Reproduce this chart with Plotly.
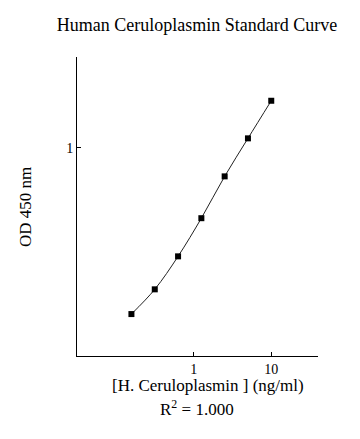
import plotly.graph_objects as go

concentration = [0.156, 0.3125, 0.625, 1.25, 2.5, 5, 10]
od450 = [0.159, 0.209, 0.301, 0.459, 0.729, 1.110, 1.682]
x_ticks = [1, 10]
y_ticks = [1]

FONT = "Liberation Serif, Times New Roman, serif"

fig = go.Figure()
fig.add_trace(go.Scatter(
    x=concentration, y=od450, mode="lines+markers",
    line=dict(color="#222222", width=1, shape="spline"),
    marker=dict(symbol="square", size=6, color="black"),
    showlegend=False,
))

fig.update_layout(
    width=360, height=439,
    margin=dict(l=77, r=42, t=57, b=83),
    paper_bgcolor="white", plot_bgcolor="white",
    font=dict(family=FONT, color="black"),
    title=dict(text="Human Ceruloplasmin Standard Curve", x=0.547, xanchor="center",
               y=1 - 25 / 439, yanchor="middle", font=dict(size=18, family=FONT, color="black")),
    xaxis=dict(type="log", range=[-1.51, 1.604], tickvals=x_ticks, ticktext=[str(v) for v in x_ticks],
               ticks="inside", ticklen=4, tickcolor="black", showline=True, linecolor="black",
               linewidth=1, showgrid=False, zeroline=False,
               tickfont=dict(size=14, family=FONT, color="black")),
    yaxis=dict(type="log", range=[-1.0, 0.436], tickvals=y_ticks, ticktext=[str(v) for v in y_ticks],
               ticks="inside", ticklen=4, tickcolor="black", showline=True, linecolor="black",
               linewidth=1, showgrid=False, zeroline=False,
               tickfont=dict(size=14, family=FONT, color="black")),
    annotations=[
        dict(text="[H. Ceruloplasmin ] (ng/ml)", xref="paper", yref="paper", x=0.5415, y=-0.097,
             xanchor="center", yanchor="middle", showarrow=False, font=dict(size=17, family=FONT)),
        dict(text="R<sup>2</sup> = 1.000", xref="paper", yref="paper", x=0.498, y=-0.174,
             xanchor="center", yanchor="middle", showarrow=False, font=dict(size=17, family=FONT)),
        dict(text="OD 450 nm", xref="paper", yref="paper", x=-0.216, y=0.498, textangle=-90,
             xanchor="center", yanchor="middle", showarrow=False, font=dict(size=17, family=FONT)),
    ],
)

fig.write_html("out.html", config={"displayModeBar": False},
               post_script="document.body.style.margin='0px';")
